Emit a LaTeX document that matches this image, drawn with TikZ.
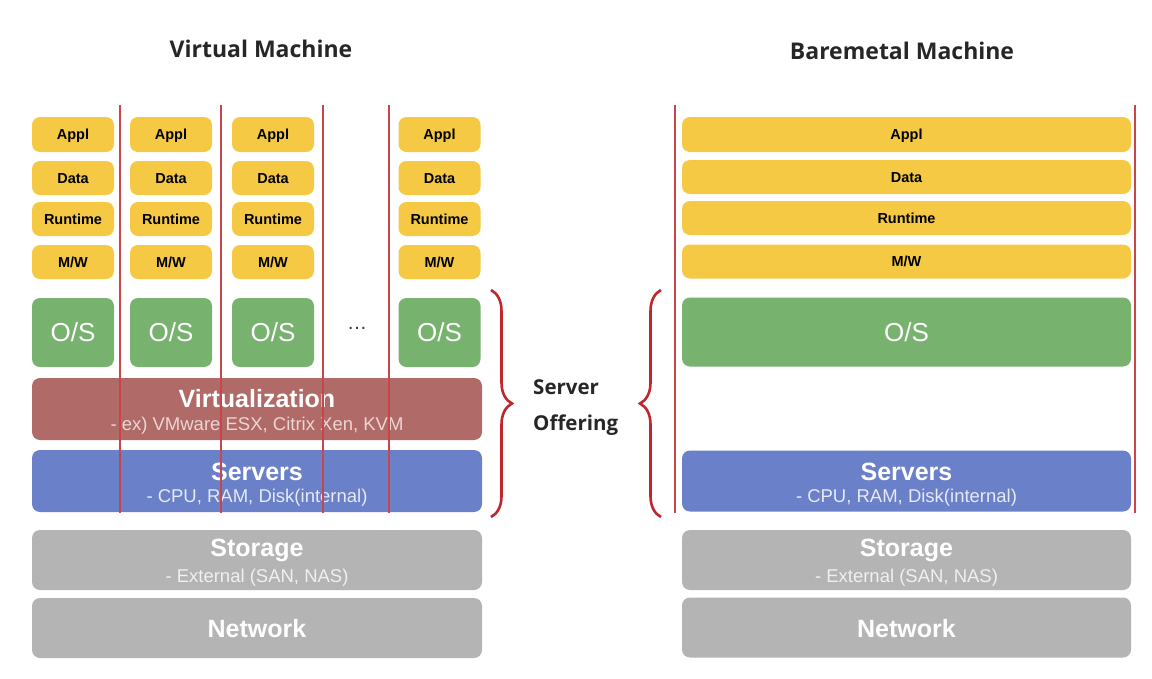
\documentclass[tikz,border=0pt]{standalone}
\usepackage{fontspec}
\setmainfont{Liberation Sans}
\newfontfamily\titlefont{Open Sans}
\usetikzlibrary{decorations.pathreplacing}
\definecolor{cyellow}{HTML}{F5C944}
\definecolor{cgreen}{HTML}{77B26F}
\definecolor{cvirt}{HTML}{B06A67}
\definecolor{cserv}{HTML}{6A80C8}
\definecolor{cgray}{HTML}{B4B4B4}
\definecolor{cline}{HTML}{C9454A}
\definecolor{cbrace}{HTML}{C0272D}
\definecolor{subvirt}{HTML}{EBD6D4}
\definecolor{subserv}{HTML}{E6EAF7}
\definecolor{subgray}{HTML}{F0F0F0}
\tikzset{
  layer/.style={rounded corners=8pt, inner sep=0pt, draw=none},
  small/.style={layer, fill=cyellow, minimum width=82pt, font=\fontsize{14.5}{16}\selectfont\bfseries, text=black, text height=10.5pt, text depth=0pt},
  wsmall/.style={small, minimum width=449pt},
  osbox/.style={layer, fill=cgreen, minimum height=69pt, font=\fontsize{26}{28}\selectfont, text=white},
  bigbox/.style={layer, minimum width=450pt},
  maintxt/.style={font=\fontsize{25}{28}\selectfont\bfseries, text=white, inner sep=0pt},
  subtxt/.style={font=\fontsize{18.5}{21}\selectfont, inner sep=0pt},
  vline/.style={draw=cline, line width=1.4pt},
  bracestyle/.style={draw=cbrace, line width=2.6pt, decorate, decoration={brace, amplitude=21pt}},
  heading/.style={font=\titlefont\fontsize{23}{26}\selectfont\bfseries, text=black!85, inner sep=0pt}
}
\begin{document}
\begin{tikzpicture}[x=1pt,y=-1pt]
\useasboundingbox (0,0) rectangle (1152,678);
\fill[white] (0,0) rectangle (1152,678);

% titles
\node[heading] (t1) at (261,49) {Virtual Machine};
\node[heading] (t2) at (902,51) {Baremetal Machine};

% ---- left stack: small columns
\foreach \cx/\nm in {73/a,171/b,273/c,439.5/d}{
  \node[small, minimum height=35pt] (appl\nm) at (\cx,134.5) {Appl};
  \node[small, minimum height=34pt] (data\nm) at (\cx,178) {Data};
  \node[small, minimum height=34pt] (run\nm) at (\cx,219) {Runtime};
  \node[small, minimum height=34pt] (mw\nm) at (\cx,262) {M/W};
  \node[osbox, minimum width=82pt] (os\nm) at (\cx,332.5) {O/S};
}
\node[font=\fontsize{20}{22}\selectfont, text=black!80] (dots) at (357,328) {\dots};

% ---- left wide layers
\node[bigbox, fill=cvirt, minimum height=62pt] (virt) at (257,409) {};
\node[maintxt] (virtT) at (257,399) {Virtualization};
\node[subtxt, text=subvirt] (virtS) at (257,426) {- ex) VMware ESX, Citrix Xen, KVM};

\node[bigbox, fill=cserv, minimum height=62pt] (servL) at (257,481) {};
\node[maintxt] (servLT) at (257,472) {Servers};
\node[subtxt, text=subserv] (servLS) at (257,497.5) {- CPU, RAM, Disk(internal)};

\node[bigbox, fill=cgray, minimum height=60pt] (storL) at (257,560) {};
\node[maintxt] (storLT) at (257,550) {Storage};
\node[subtxt, text=subgray] (storLS) at (257,577.5) {- External (SAN, NAS)};

\node[bigbox, fill=cgray, minimum height=60pt] (netL) at (257,628) {};
\node[maintxt] (netLT) at (257,629) {Network};

% vertical lines left
\foreach \lx in {120,221,323,389}{
  \draw[vline] (\lx,105) -- (\lx,513);
}

% ---- right stack
\node[wsmall, minimum height=35pt] (applR) at (906.5,134.5) {Appl};
\node[wsmall, minimum height=34pt] (dataR) at (906.5,177) {Data};
\node[wsmall, minimum height=34pt] (runR) at (906.5,218) {Runtime};
\node[wsmall, minimum height=34pt] (mwR) at (906.5,261.5) {M/W};
\node[osbox, minimum width=449pt] (osR) at (906.5,332) {O/S};

\node[bigbox, fill=cserv, minimum height=61pt, minimum width=449pt] (servR) at (906.5,481) {};
\node[maintxt] (servRT) at (906.5,472) {Servers};
\node[subtxt, text=subserv] (servRS) at (906.5,497.5) {- CPU, RAM, Disk(internal)};

\node[bigbox, fill=cgray, minimum height=60pt, minimum width=449pt] (storR) at (906.5,560) {};
\node[maintxt] (storRT) at (906.5,550) {Storage};
\node[subtxt, text=subgray] (storRS) at (906.5,577.5) {- External (SAN, NAS)};

\node[bigbox, fill=cgray, minimum height=60pt, minimum width=449pt] (netR) at (906.5,627.5) {};
\node[maintxt] (netRT) at (906.5,628.5) {Network};

\draw[vline] (675,105) -- (675,513);
\draw[vline] (1135,105) -- (1135,513);

% braces
\coordinate (b1top) at (491,290);
\coordinate (b1bot) at (491,517);
\draw[bracestyle] (b1top) -- (b1bot);
\coordinate (b2top) at (661,290);
\coordinate (b2bot) at (661,517);
\draw[bracestyle] (b2bot) -- (b2top);

\node[font=\titlefont\fontsize{20.5}{36}\selectfont\bfseries, text=black!85, align=left, anchor=west, inner sep=0pt] (offer) at (533,408) {Server\\Offering};
\end{tikzpicture}
\end{document}
